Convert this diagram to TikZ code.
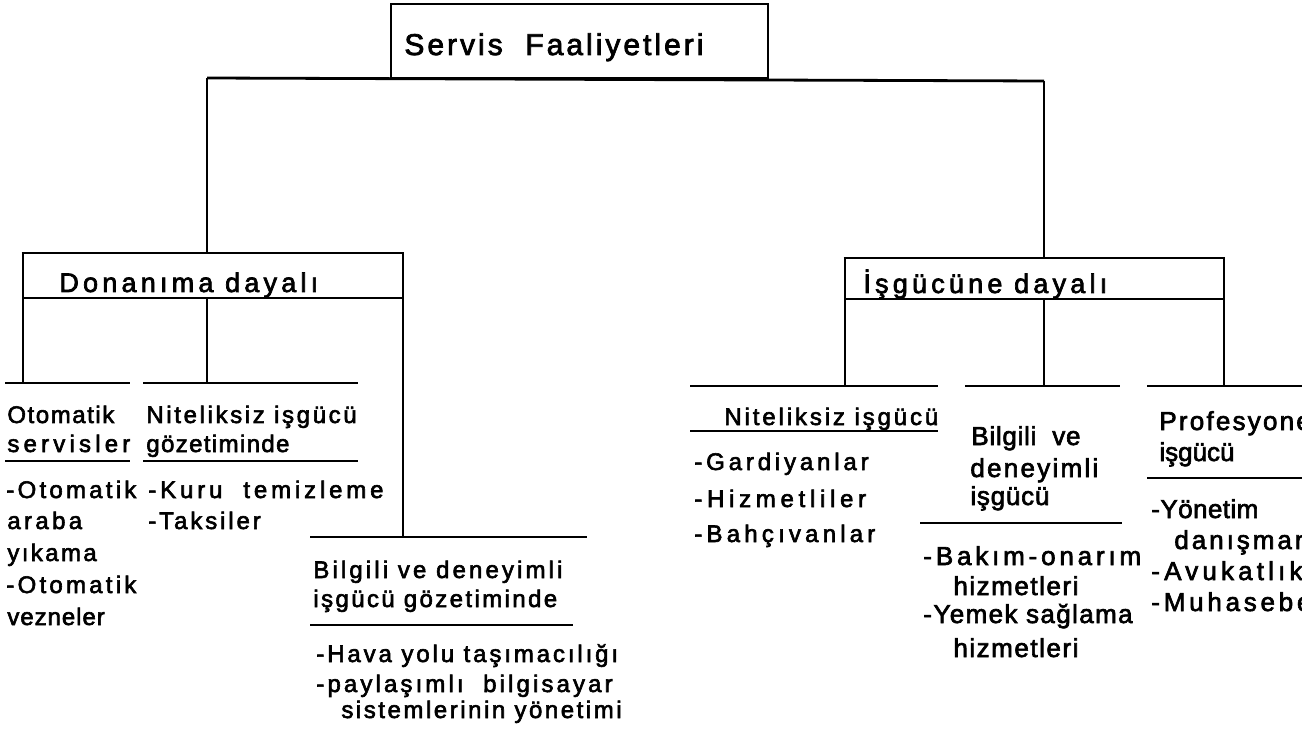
\documentclass[tikz,border=0pt]{standalone}
\usepackage{fontspec}
\setmainfont{Liberation Sans}
\usetikzlibrary{calc}
\begin{document}
\begin{tikzpicture}[x=1pt,y=-1pt,line width=2.8pt,
  bar/.style={line cap=butt},
  txt/.style={anchor=base west,inner sep=0pt,
    font=\fontsize{24}{28}\selectfont\addfontfeatures{LetterSpace=#1,FakeBold=2.5}},
  txt/.default=0,
  txtR/.style={anchor=base west,inner sep=0pt,
    font=\fontsize{26}{30}\selectfont\addfontfeatures{LetterSpace=#1,FakeBold=2.5}},
  txtR/.default=0,
  head/.style={anchor=base west,inner sep=0pt,
    font=\fontsize{27}{30}\selectfont\addfontfeatures{LetterSpace=15.6,FakeBold=2.5}},
  titletext/.style={anchor=base west,inner sep=0pt,
    font=\fontsize{30}{34}\selectfont\addfontfeatures{LetterSpace=10,FakeBold=2.5}}]

\useasboundingbox (0,0) rectangle (1302,743);
\clip (0,0) rectangle (1302,743);

% ---------- root ----------
\node[draw,minimum width=377pt,minimum height=74pt,inner sep=0pt] (root) at (579.5,41) {};
\node[titletext] (rootlabel) at (403,55) {Servis~~Faaliyetleri};

\coordinate (rootL) at (207,78);
\coordinate (rootR) at (1044,81);
\draw[bar] (rootL) -- (rootR);

% ---------- equipment based branch ----------
\coordinate (dTL) at (23,253);
\coordinate (dTM) at (207,253);
\coordinate (dTR) at (403,253);
\coordinate (dBL) at (23,298);
\coordinate (dBM) at (207,298);
\coordinate (dBR) at (403,298);
\draw[bar] (rootL) -- (dTM);
\draw[bar] ($(dTL)+(-1.4,0)$) -- ($(dTR)+(1.4,0)$);
\draw[bar] (dBL) -- (dBR);
\node[head] (don) at (58,292) {Donanıma dayalı};

\coordinate (a1) at (23,383);
\coordinate (b1) at (207,383);
\coordinate (c1) at (403,537);
\draw[bar] (dTL) -- (a1);
\draw[bar] (dBM) -- (b1);
\draw[bar] (dTR) -- (c1);

\coordinate (a1L) at (5,383);   \coordinate (a1R) at (130,383);
\coordinate (b1L) at (143,383); \coordinate (b1R) at (358,383);
\coordinate (c1L) at (310,537); \coordinate (c1R) at (587,537);
\draw[bar] (a1L) -- (a1R);
\draw[bar] (b1L) -- (b1R);
\draw[bar] (c1L) -- (c1R);

% automatic services
\node[txt=6.5]  (otoA) at (6,423) {Otomatik};
\node[txt=17.5] (otoB) at (6,452) {servisler};
\coordinate (a2L) at (5,461); \coordinate (a2R) at (130,461);
\draw[bar] (a2L) -- (a2R);
\node[txt=13.5] (otoC) at (5,498) {-Otomatik};
\node[txt=14]   (otoD) at (6,529) {araba};
\node[txt=10]   (otoE) at (6,561) {yıkama};
\node[txt=13.5] (otoF) at (5,593) {-Otomatik};
\node[txt=4]    (otoG) at (6,625) {vezneler};

% unskilled supervision
\node[txt=11]  (nitA) at (145,423) {Niteliksiz işgücü};
\node[txt=5.7] (nitB) at (145,452) {gözetiminde};
\coordinate (b2L) at (143,461); \coordinate (b2R) at (358,461);
\draw[bar] (b2L) -- (b2R);
\node[txt=16] (nitC) at (147,498) {-Kuru~~temizleme};
\node[txt=12] (nitD) at (147,529) {-Taksiler};

% skilled supervision
\node[txt=13] (bilA) at (312,578) {Bilgili ve deneyimli};
\node[txt=10] (bilB) at (312,607) {işgücü gözetiminde};
\coordinate (c2L) at (310,625); \coordinate (c2R) at (573,625);
\draw[bar] (c2L) -- (c2R);
\node[txt=12]   (bilC) at (315,662) {-Hava yolu taşımacılığı};
\node[txt=13]   (bilD) at (315,692) {-paylaşımlı~~bilgisayar};
\node[txt=10.6] (bilE) at (340,718) {sistemlerinin yönetimi};

% ---------- labour based branch ----------
\coordinate (iTL) at (845,258);
\coordinate (iTM) at (1044,258);
\coordinate (iTR) at (1224,258);
\coordinate (iBL) at (845,299);
\coordinate (iBM) at (1044,299);
\coordinate (iBR) at (1224,299);
\draw[bar] (rootR) -- (iTM);
\draw[bar] ($(iTL)+(-1.4,0)$) -- ($(iTR)+(1.4,0)$);
\draw[bar] (iBL) -- (iBR);
\node[head] (isg) at (862,293) {İşgücüne dayalı};

\coordinate (d1) at (845,386);
\coordinate (e1) at (1044,386);
\coordinate (f1) at (1224,386);
\draw[bar] (iTL) -- (d1);
\draw[bar] (iBM) -- (e1);
\draw[bar] (iTR) -- (f1);

\coordinate (d1L) at (690,386);  \coordinate (d1R) at (938,386);
\coordinate (e1L) at (965,386);  \coordinate (e1R) at (1120,386);
\coordinate (f1L) at (1147,386); \coordinate (f1R) at (1310,386);
\draw[bar] (d1L) -- (d1R);
\draw[bar] (e1L) -- (e1R);
\draw[bar] (f1L) -- (f1R);

% unskilled labour
\node[txt=12] (unA) at (723,425) {Niteliksiz işgücü};
\coordinate (d2L) at (690,431); \coordinate (d2R) at (938,431);
\draw[bar] (d2L) -- (d2R);
\node[txt=16]   (unB) at (693,470) {-Gardiyanlar};
\node[txt=19.6] (unC) at (693,507) {-Hizmetliler};
\node[txt=17.5] (unD) at (693,542) {-Bahçıvanlar};

% skilled labour
\node[txtR=2.8]  (skA) at (970,445) {Bilgili~~ve};
\node[txtR=8.7]  (skB) at (969,477) {deneyimli};
\node[txtR=3]    (skC) at (969,505) {işgücü};
\coordinate (e2L) at (920,523); \coordinate (e2R) at (1122,523);
\draw[bar] (e2L) -- (e2R);
\node[txtR=14.7] (skD) at (922,565) {-Bakım-onarım};
\node[txtR=5.9]  (skE) at (952,595) {hizmetleri};
\node[txtR=5.3]  (skF) at (922,623) {-Yemek sağlama};
\node[txtR=5.9]  (skG) at (952,657) {hizmetleri};

% professional labour
\node[txtR=8.5]  (prA) at (1158,430) {Profesyonel};
\node[txtR=0]    (prB) at (1158,461) {işgücü};
\coordinate (f2L) at (1147,478); \coordinate (f2R) at (1310,478);
\draw[bar] (f2L) -- (f2R);
\node[txtR=1.6]  (prC) at (1150,518) {-Yönetim};
\node[txtR=11.4] (prD) at (1173,549) {danışmanlığı};
\node[txtR=16]   (prE) at (1150,580) {-Avukatlık};
\node[txtR=14.4] (prF) at (1150,611) {-Muhasebe};
\end{tikzpicture}
\end{document}
